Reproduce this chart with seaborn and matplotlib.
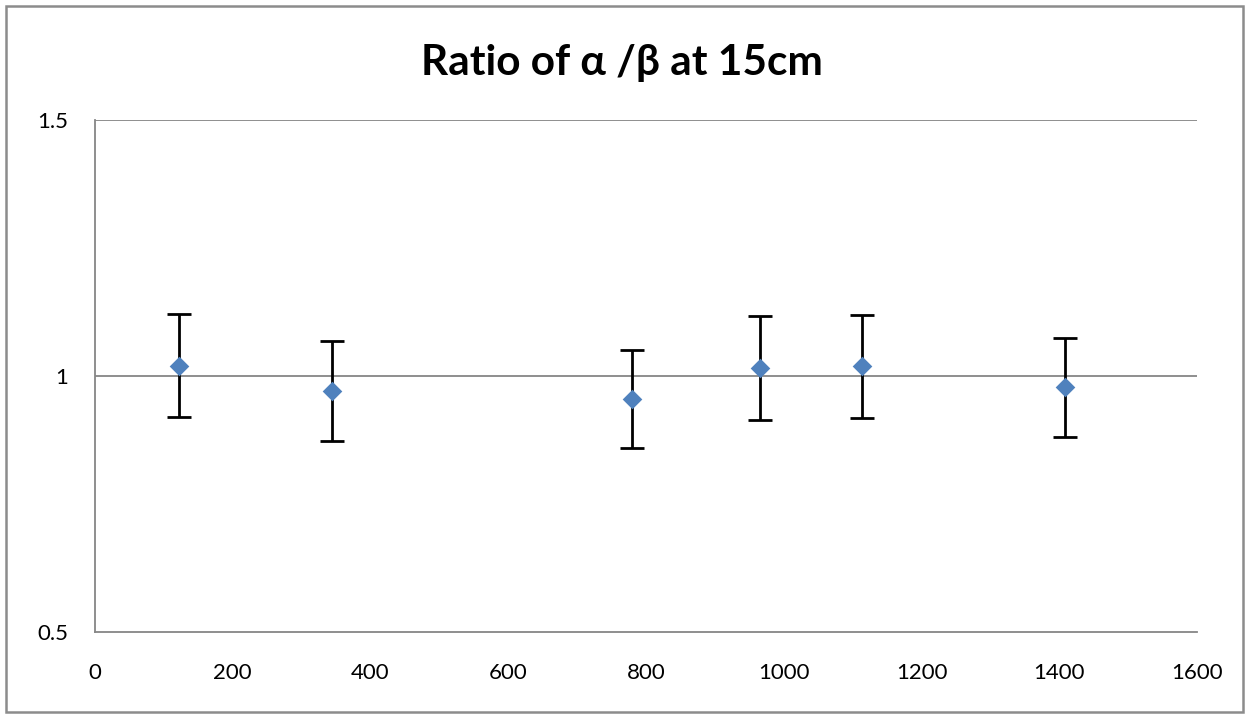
import numpy as np
import pandas as pd
import seaborn as sns
import matplotlib.pyplot as plt
from matplotlib.patches import Rectangle

# values
distance = [122, 344, 780, 966, 1113, 1409]
ratio = [1.020, 0.971, 0.955, 1.016, 1.019, 0.978]
err = [0.101, 0.097, 0.095, 0.102, 0.101, 0.097]
x_ticks = [0, 200, 400, 600, 800, 1000, 1200, 1400, 1600]
y_ticks = [0.5, 1, 1.5]

df = pd.DataFrame({"distance": distance, "ratio": ratio, "err": err})

sns.set_style("white")
plt.rcParams["font.family"] = ["Lato", "DejaVu Sans"]

W, H = 1246, 715
fig = plt.figure(figsize=(W / 100, H / 100), dpi=100)
# outer chart-area border
fig.patches.append(Rectangle((6 / W, 3 / H), 1 - 9 / W, 1 - 9 / H, transform=fig.transFigure,
                             fill=False, edgecolor="#8c8c8c", linewidth=1.8))
ax = fig.add_axes([95 / W, 1 - 632 / H, 1102 / W, 512 / H])

grid_col = "#868686"
ax.errorbar(df["distance"], df["ratio"], yerr=df["err"], fmt="none",
            ecolor="black", elinewidth=2, capsize=8.6, capthick=2, zorder=3)
sns.scatterplot(data=df, x="distance", y="ratio", marker="D", s=100,
                color="#4F81BD", edgecolor="#4F81BD", linewidth=0, ax=ax, zorder=4)

ax.set_xlim(0, 1600)
ax.set_ylim(0.5, 1.5)
ax.set_xticks(x_ticks)
ax.set_xticklabels([str(t) for t in x_ticks])
ax.set_yticks(y_ticks)
ax.set_yticklabels(["0.5", "1", "1.5"])
for y in y_ticks[1:]:
    ax.axhline(y, color=grid_col, lw=1.3, zorder=1)

for s in ["top", "right"]:
    ax.spines[s].set_visible(False)
for s in ["left", "bottom"]:
    ax.spines[s].set_color(grid_col)
    ax.spines[s].set_linewidth(1.3)

ax.tick_params(axis="both", direction="out", length=5.5, width=1.3, color=grid_col,
               labelsize=16, labelcolor="black")
ax.tick_params(axis="x", pad=17)
ax.tick_params(axis="y", pad=14)
ax.set_xlabel("")
ax.set_ylabel("")

fig.text(0.499, 1 - 75 / H, "Ratio of \u03b1 /\u03b2 at 15cm", ha="center", va="baseline",
         fontsize=30.5, fontweight="bold", color="black")

fig.savefig("out.png", dpi=100)
